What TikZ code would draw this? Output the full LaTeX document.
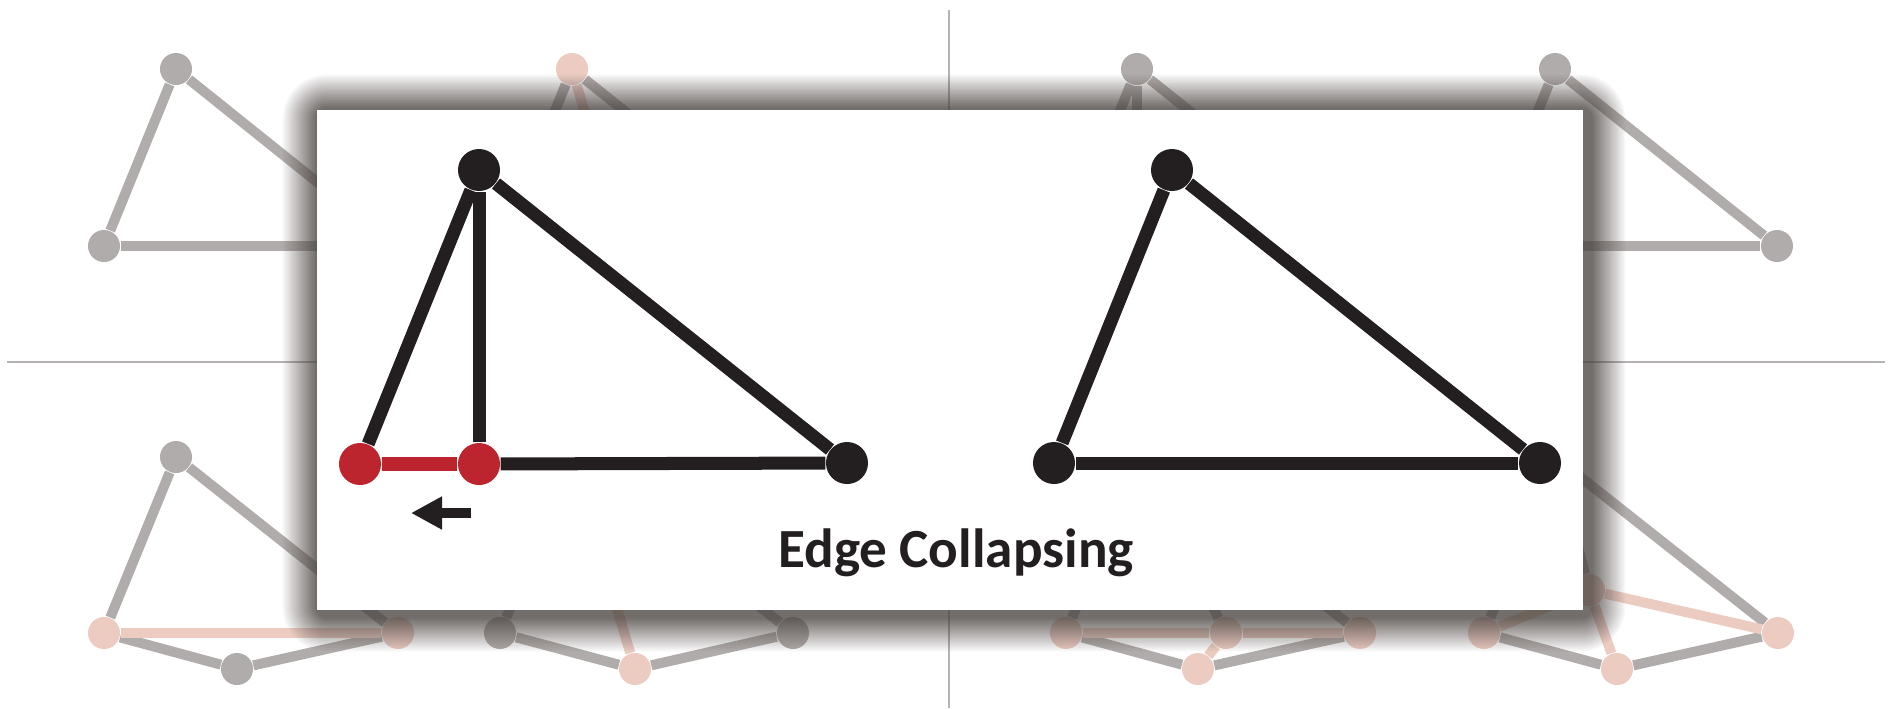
\documentclass[tikz,border=0pt]{standalone}
\usepackage{fontspec}
\newfontfamily\captionfont{Carlito}
\usetikzlibrary{arrows.meta}

\definecolor{bggray}{RGB}{177,172,172}
\definecolor{bgpink}{RGB}{236,204,193}
\definecolor{framegray}{RGB}{183,179,179}
\definecolor{inkblack}{RGB}{35,31,32}
\definecolor{inkred}{RGB}{188,37,45}
\definecolor{shadowgray}{RGB}{72,66,64}

\tikzset{
  bgvert/.style={circle, fill=bggray, minimum size=3.2mm, inner sep=0pt},
  bgpinkvert/.style={bgvert, fill=bgpink},
  bgedge/.style={draw=bggray, line width=1mm},
  bgpinkedge/.style={draw=bgpink, line width=1mm},
  fgvert/.style={circle, fill=inkblack, minimum size=4.2mm, inner sep=0pt},
  fgredvert/.style={fgvert, fill=inkred},
  fgedge/.style={draw=inkblack, line width=1.3mm},
  fgrededge/.style={draw=inkred, line width=1.4mm},
}

\begin{document}
\begin{tikzpicture}[x=0.01cm, y=-0.01cm]
  \fill[white] (0,0) rectangle (1890,708);
  \useasboundingbox (0,0) rectangle (1890,708);

  % ===== Rejilla de fondo =====
  \draw[framegray, line width=0.2mm] (949,10) -- (949,708);
  \draw[framegray, line width=0.2mm] (7,362) -- (1885,362);

  % ===== Cuadrante superior izquierdo =====
  \begin{scope}[shift={(176,69)}]
    \node[bgvert] (qat) at (0,0) {};
    \node[bgvert] (qal) at (-72,177) {};
    \node[bgvert] (qar) at (221,177) {};
    \draw[bgedge] (qat) -- (qal);
    \draw[bgedge] (qat) -- (qar);
    \draw[bgedge] (qal) -- (qar);
  \end{scope}
  \begin{scope}[shift={(572,69)}]
    \node[bgpinkvert] (qbt) at (0,0) {};
    \node[bgvert] (qbl) at (-72,177) {};
    \node[bgpinkvert] (qbb) at (63,213) {};
    \node[bgvert] (qbr) at (221,177) {};
    \draw[bgedge] (qbt) -- (qbl);
    \draw[bgedge] (qbt) -- (qbr);
    \draw[bgedge] (qbl) -- (qbb);
    \draw[bgedge] (qbb) -- (qbr);
    \draw[bgpinkedge] (qbt) -- (qbb);
  \end{scope}

  % ===== Cuadrante superior derecho =====
  \begin{scope}[shift={(1137,69)}]
    \node[bgvert] (qct) at (0,0) {};
    \node[bgvert] (qcl) at (-72,177) {};
    \node[bgvert] (qcm) at (0,177) {};
    \node[bgvert] (qcr) at (221,177) {};
    \draw[bgedge] (qct) -- (qcl);
    \draw[bgedge] (qct) -- (qcm);
    \draw[bgedge] (qct) -- (qcr);
    \draw[bgedge] (qcl) -- (qcm);
    \draw[bgedge] (qcm) -- (qcr);
  \end{scope}
  \begin{scope}[shift={(1555,69)}]
    \node[bgvert] (qdt) at (0,0) {};
    \node[bgvert] (qdl) at (-72,177) {};
    \node[bgvert] (qdr) at (222,177) {};
    \draw[bgedge] (qdt) -- (qdl);
    \draw[bgedge] (qdt) -- (qdr);
    \draw[bgedge] (qdl) -- (qdr);
  \end{scope}

  % ===== Cuadrante inferior izquierdo =====
  \begin{scope}[shift={(176,457)}]
    \node[bgvert] (qet) at (0,0) {};
    \node[bgpinkvert] (qel) at (-72,176) {};
    \node[bgvert] (qeb) at (61,212) {};
    \node[bgpinkvert] (qer) at (222,176) {};
    \draw[bgedge] (qet) -- (qel);
    \draw[bgedge] (qet) -- (qer);
    \draw[bgedge] (qel) -- (qeb);
    \draw[bgedge] (qeb) -- (qer);
    \draw[bgpinkedge] (qel) -- (qer);
  \end{scope}
  \begin{scope}[shift={(572,457)}]
    \node[bgvert] (qft) at (0,0) {};
    \node[bgvert] (qfl) at (-72,176) {};
    \node[bgpinkvert] (qfb) at (63,212) {};
    \node[bgvert] (qfr) at (221,176) {};
    \draw[bgedge] (qft) -- (qfl);
    \draw[bgedge] (qft) -- (qfr);
    \draw[bgedge] (qfl) -- (qfb);
    \draw[bgedge] (qfb) -- (qfr);
    \draw[bgpinkedge] (qft) -- (qfb);
  \end{scope}

  % ===== Cuadrante inferior derecho =====
  \begin{scope}[shift={(1137,457)}]
    \node[bgvert] (qgt) at (0,0) {};
    \node[bgpinkvert] (qgl) at (-71,176) {};
    \node[bgpinkvert] (qgm) at (89,176) {};
    \node[bgpinkvert] (qgb) at (61,212) {};
    \node[bgpinkvert] (qgr) at (223,176) {};
    \draw[bgedge] (qgt) -- (qgl);
    \draw[bgedge] (qgt) -- (qgm);
    \draw[bgedge] (qgt) -- (qgr);
    \draw[bgedge] (qgl) -- (qgb);
    \draw[bgedge] (qgb) -- (qgr);
    \draw[bgpinkedge] (qgl) -- (qgm) -- (qgr);
    \draw[bgpinkedge] (qgb) -- (qgm);
  \end{scope}
  \begin{scope}[shift={(1555,457)}]
    \node[bgvert] (qht) at (0,0) {};
    \node[bgpinkvert] (qhl) at (-71,176) {};
    \node[bgpinkvert] (qhc) at (34,133) {};
    \node[bgpinkvert] (qhb) at (62,212) {};
    \node[bgpinkvert] (qhr) at (223,176) {};
    \draw[bgedge] (qht) -- (qhl);
    \draw[bgedge] (qht) -- (qhr);
    \draw[bgedge] (qht) -- (qhc);
    \draw[bgedge] (qhl) -- (qhb);
    \draw[bgedge] (qhb) -- (qhr);
    \draw[bgpinkedge] (qhc) -- (qhl);
    \draw[bgpinkedge] (qhc) -- (qhr);
    \draw[bgpinkedge] (qhc) -- (qhb);
  \end{scope}

  % ===== Sombra y panel =====
  % capas de fuera hacia dentro, opacidad para un degradado lineal
  \foreach \j in {1,...,20}{
    \pgfmathsetmacro\grow{6+(20-\j)*1.7}
    \pgfmathsetmacro\rc{0.1*\grow+0.6}
    \pgfmathsetmacro\alph{(0.75/20)/(1-0.75*(\j-1)/20)}
    \fill[shadowgray, opacity=\alph, rounded corners=\rc mm]
      (321-\grow,113-\grow) rectangle (1587+\grow,613+\grow);
  }
  \coordinate (panelnw) at (317,110);
  \coordinate (panelse) at (1583,610);
  \fill[white] (panelnw) rectangle (panelse);

  % ===== Antes del colapso =====
  \node[fgvert] (lt) at (479,170) {};
  \node[fgredvert] (ll) at (360,464) {};
  \node[fgredvert] (lm) at (479,464) {};
  \node[fgvert] (lr) at (847,463) {};
  \draw[fgedge] (lt) -- (ll);
  \draw[fgedge] (lt) -- (lm);
  \draw[fgedge] (lt) -- (lr);
  \draw[fgedge] (lm) -- (lr);
  \draw[fgrededge] (ll) -- (lm);
  \coordinate (movefrom) at (471,513);
  \coordinate (moveto) at (411,513);
  \draw[inkblack, line width=1mm, -{Triangle[length=3.1mm, width=3.1mm]}] (movefrom) -- (moveto);

  % ===== Despues del colapso =====
  \node[fgvert] (rt) at (1172,170) {};
  \node[fgvert] (rl) at (1054,463) {};
  \node[fgvert] (rr) at (1540,463) {};
  \draw[fgedge] (rt) -- (rl);
  \draw[fgedge] (rt) -- (rr);
  \draw[fgedge] (rl) -- (rr);

  \node[anchor=base, text=inkblack, font=\captionfont\bfseries\fontsize{15.7pt}{18pt}\selectfont] (caption) at (956,567) {Edge Collapsing};
\end{tikzpicture}
\end{document}
